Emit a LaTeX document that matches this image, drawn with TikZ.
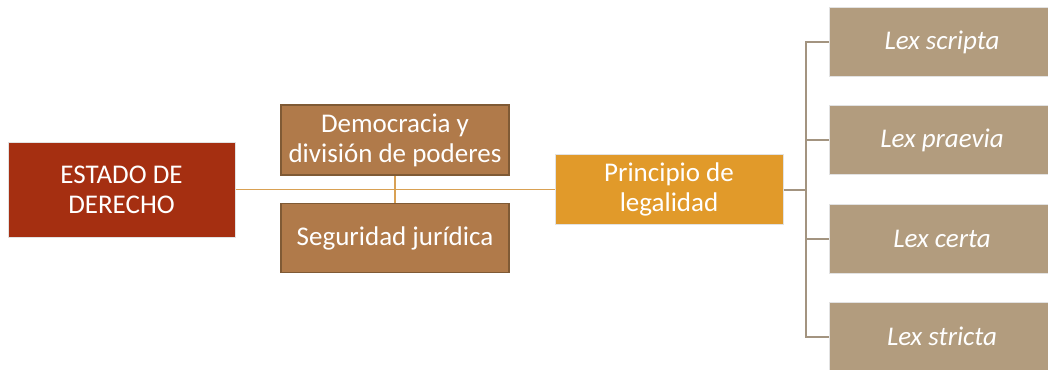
\documentclass[tikz,border=0pt]{standalone}
\usepackage{fontspec}
\setmainfont{Carlito}
\definecolor{estado}{HTML}{A52F11}
\definecolor{demo}{HTML}{B07A4A}
\definecolor{demob}{HTML}{7F5A35}
\definecolor{princ}{HTML}{E19A2A}
\definecolor{lex}{HTML}{B29C7E}
\definecolor{lineA}{HTML}{D9A154}
\definecolor{lineB}{HTML}{A39480}
\definecolor{lightb}{HTML}{E2E2E2}
\begin{document}
\begin{tikzpicture}[x=1pt,y=-1pt,
  base/.style={rectangle, inner sep=0pt, text=white, align=center,
    font=\fontsize{27}{30}\selectfont},
  estadobox/.style={base, fill=estado, draw=lightb, line width=1pt},
  demobox/.style={base, fill=demo, draw=demob, line width=1.5pt},
  princbox/.style={base, fill=princ, draw=lightb, line width=1pt},
  lexbox/.style={base, fill=lex, draw=lightb, line width=1pt,
    font=\fontsize{27}{30}\selectfont\itshape,
    minimum width=226pt, minimum height=69pt},
  connA/.style={draw=lineA, line width=1.8pt},
  connB/.style={draw=lineB, line width=2pt}]
\useasboundingbox (0,0) rectangle (1048,369);
\clip (0,0) rectangle (1048,369);
\node[estadobox, minimum width=227pt, minimum height=95pt] (estado) at (121.5,189.5) {ESTADO DE\\DERECHO};
\node[demobox, minimum width=228pt, minimum height=70pt] (demo) at (395,140) {Democracia y\\división de poderes};
\node[demobox, minimum width=228pt, minimum height=69pt] (seg) at (395,238) {Seguridad jurídica};
\node[princbox, minimum width=228pt, minimum height=70pt] (princ) at (669,189.5) {Principio de\\legalidad};
\node[lexbox] (l1) at (942,42) {Lex scripta};
\node[lexbox] (l2) at (942,140) {Lex praevia};
\node[lexbox] (l3) at (942,238.5) {Lex certa};
\node[lexbox] (l4) at (942,336.5) {Lex stricta};
\draw[connA] (estado.east) -- (princ.west);
\draw[connA] (demo.south) -- (seg.north);
\coordinate (bus) at (806,189.5);
\draw[connB] (princ.east) -- (bus);
\draw[connB] (bus) |- (l1.west);
\draw[connB] (bus) |- (l2.west);
\draw[connB] (bus) |- (l3.west);
\draw[connB] (bus) |- (l4.west);
\end{tikzpicture}
\end{document}
